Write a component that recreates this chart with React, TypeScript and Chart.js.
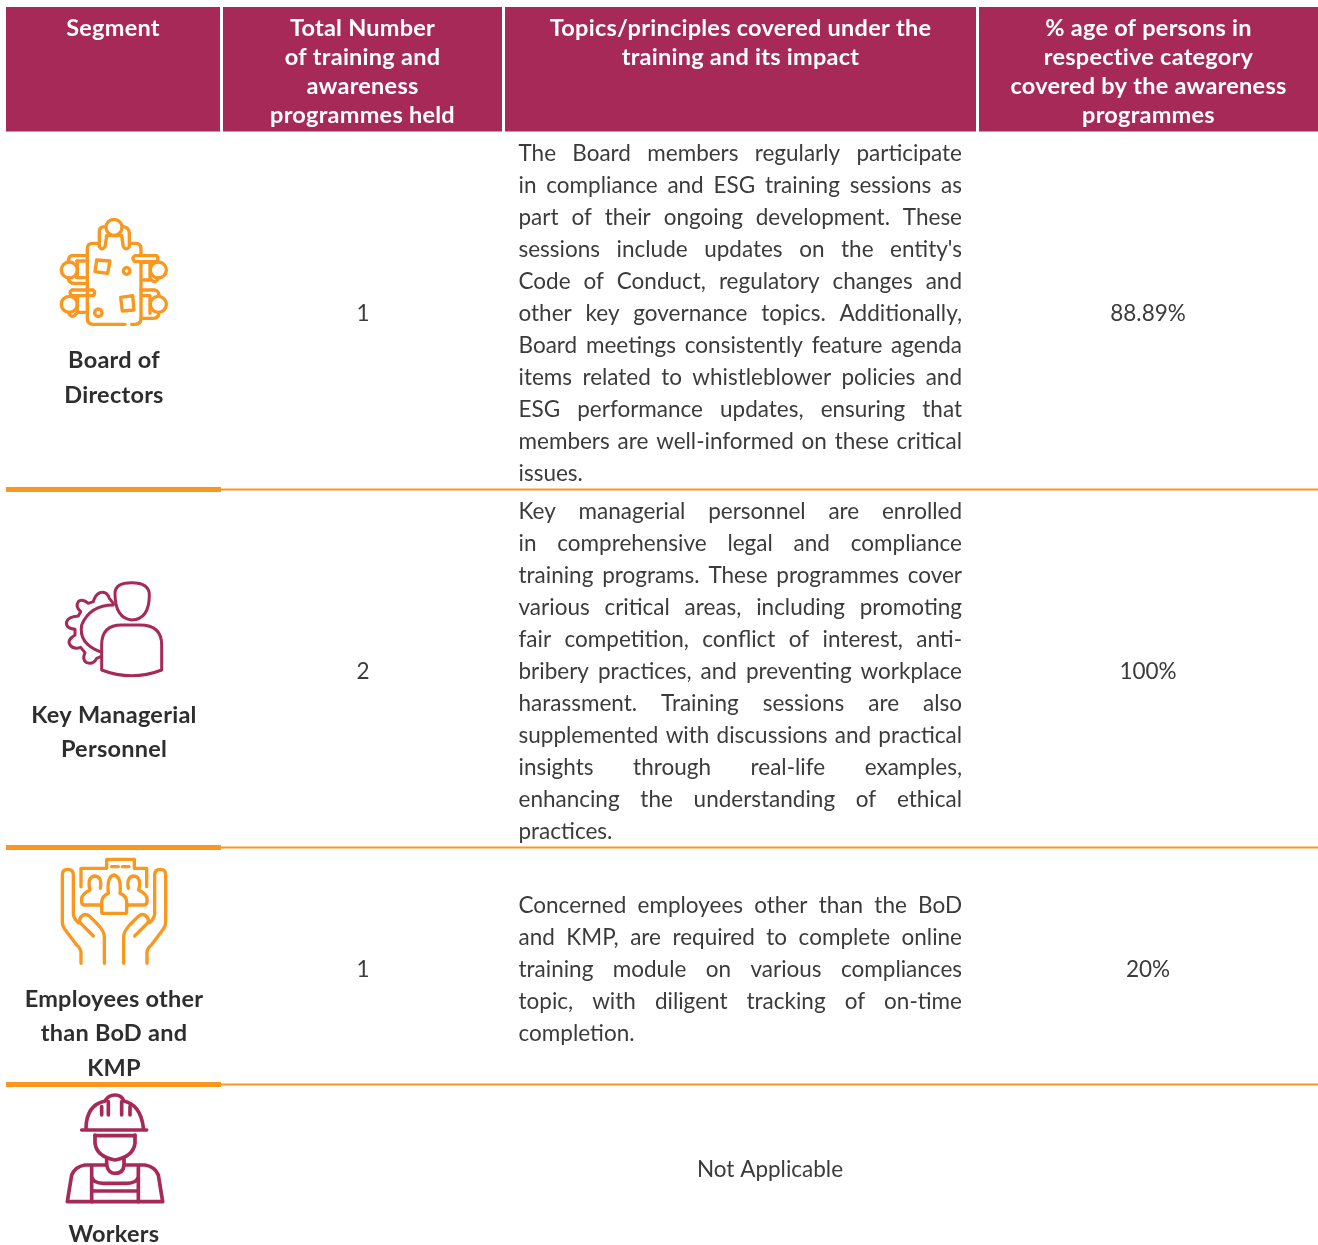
import React, { useEffect, useRef } from "react";
import { Chart, registerables } from "chart.js";

Chart.register(...registerables);

const headers: string[][] = [
  ["Segment"],
  ["Total Number", "of training and", "awareness", "programmes held"],
  ["Topics/principles covered under the", "training and its impact"],
  ["% age of persons in", "respective category", "covered by the awareness", "programmes"],
];
const segments: string[][] = [
  ["Board of", "Directors"],
  ["Key Managerial", "Personnel"],
  ["Employees other", "than BoD and", "KMP"],
  ["Workers"],
];
const programmes = ["1", "2", "1"];
const coverage = ["88.89%", "100%", "20%"];
const notApplicable = "Not Applicable";
const topics: string[][] = [
  [
    "The Board members regularly participate",
    "in compliance and ESG training sessions as",
    "part of their ongoing development. These",
    "sessions include updates on the entity's",
    "Code of Conduct, regulatory changes and",
    "other key governance topics. Additionally,",
    "Board meetings consistently feature agenda",
    "items related to whistleblower policies and",
    "ESG performance updates, ensuring that",
    "members are well-informed on these critical",
    "issues.",
  ],
  [
    "Key managerial personnel are enrolled",
    "in comprehensive legal and compliance",
    "training programs. These programmes cover",
    "various critical areas, including promoting",
    "fair competition, conflict of interest, anti-",
    "bribery practices, and preventing workplace",
    "harassment. Training sessions are also",
    "supplemented with discussions and practical",
    "insights through real-life examples,",
    "enhancing the understanding of ethical",
    "practices.",
  ],
  [
    "Concerned employees other than the BoD",
    "and KMP, are required to complete online",
    "training module on various compliances",
    "topic, with diligent tracking of on-time",
    "completion.",
  ],
];

const CRIMSON = "#a62958";
const ORANGE = "#f9971f";
const INK = "#3b3b3b";
const FONT = "Lato";

const colBands = [[6, 220], [223, 502], [505, 976], [979, 1318]];
const headerBaselines = [36, 65, 94, 123];
const rowTextStart = [161, 519, 913];
const rowValueBaseline = [321, 679, 977];
const segmentBaselines = [[368, 403], [723, 757], [1007, 1041, 1076], [1242]];
const ruleYs = [489.5, 847.5, 1084.5];

const boardIcon = {
  origin: [40, 205], color: ORANGE, width: 10,
  paths: [
    "M178,115 L158,115 Q142,115 142,132 L142,340 Q142,358 160,358 L255,358",
    "M275,358 L285,358 Q303,358 303,340 L303,172 M303,150 L303,132 Q303,115 287,115 L270,115",
    "M246,67 A24,24 0 1 1 198,67 A24,24 0 1 1 246,67 Z",
    "M178,125 L178,80 Q178,65 195,65 M250,65 Q268,68 268,85 L268,125 Q258,138 250,125 L245,92 L200,92 L195,125 Q185,138 178,125",
    "M285,152 L350,152 Q358,160 350,170 L285,170 Q272,160 285,152",
    "M379,195 A24,24 0 1 1 331,195 A24,24 0 1 1 379,195 Z",
    "M305,172 L330,172 L330,225 L305,225 M330,220 Q345,240 355,219",
    "M112,195 A24,24 0 1 1 64,195 A24,24 0 1 1 112,195 Z",
    "M142,152 L95,152 Q85,155 85,170 M85,218 Q85,235 105,235 L142,235 M110,168 L135,168 M110,218 L135,218 M112,168 L112,218",
    "M112,298 A24,24 0 1 1 64,298 A24,24 0 1 1 112,298 Z",
    "M160,255 L95,255 Q85,262 95,272 L160,272 Q168,262 160,255 M135,272 L110,272 M135,322 L110,322 M85,322 Q95,345 110,325 M112,272 L112,322",
    "M379,298 A24,24 0 1 1 331,298 A24,24 0 1 1 379,298 Z",
    "M303,255 L345,255 Q357,258 357,272 M303,340 L340,340 Q357,340 357,322 M305,272 L330,272 L330,325",
    "M170,165 L210,168 L203,205 L165,200 Z",
    "M242,277 L278,272 L282,315 L247,318 Z",
    "M270,198 A10,10 0 1 1 250,198 A10,10 0 1 1 270,198 Z",
    "M186,323 A11,11 0 1 1 164,323 A11,11 0 1 1 186,323 Z",
  ],
};
const managerIcon = {
  origin: [50, 570], color: CRIMSON, width: 9,
  paths: [
    "M195,70 Q195,38 245,38 Q298,38 298,75 Q298,148 245,150 Q195,145 195,70 Z",
    "M155,300 L155,225 Q155,165 215,165 L270,165 Q335,165 335,225 L335,300 Q245,335 155,300 Z",
    "M190,100 L178,85 Q170,62 150,68 Q135,75 130,95 L115,100 Q95,85 85,95 Q75,110 92,125 L85,138 Q55,140 50,155 Q45,175 75,178 L75,195 Q50,210 60,225 Q72,240 92,232 L105,248 Q95,270 110,278 Q130,285 140,265 L152,260",
    "M190,105 Q120,105 95,165 Q85,220 150,245",
  ],
};
const employeeIcon = {
  origin: [45, 850], color: ORANGE, width: 10,
  paths: [
    "M108,340 L108,310 Q108,295 95,285 L65,245 Q52,230 52,215 L52,75 Q52,58 68,58 Q85,58 85,75 L85,190 Q85,205 100,218",
    "M145,258 L105,218 Q100,205 115,195 Q125,190 135,200 L160,225 Q178,245 178,260 L178,340",
    "M306,340 L306,310 Q306,295 319,285 L349,245 Q362,230 362,215 L362,75 Q362,58 346,58 Q329,58 329,75 L329,190 Q329,205 314,218",
    "M269,258 L309,218 Q314,205 299,195 Q289,190 279,200 L254,225 Q236,245 236,260 L236,340",
    "M108,110 L108,55 L185,55 L185,28 L268,28 L268,55 L305,55 L305,110",
    "M170,185 L170,155 Q172,138 190,130 Q185,80 207,75 Q230,80 225,130 Q245,138 245,155 L245,185 Q245,190 240,190 L175,190 Q170,190 170,185 Z",
    "M168,165 L120,165 Q110,165 110,155 L110,145 Q112,132 135,120 Q125,80 150,78 Q172,80 166,115",
    "M248,165 L296,165 Q306,165 306,155 L306,145 Q304,132 281,120 Q291,80 266,78 Q244,80 250,115",
    "M200,50 L220,50 M232,50 L252,50",
  ],
};
const workerIcon = {
  origin: [50, 1085], color: CRIMSON, width: 11,
  paths: [
    "M108,128 Q110,60 165,48 Q175,30 195,30 Q215,30 222,48 Q272,60 280,128",
    "M95,135 L290,135 M135,152 L255,152",
    "M155,65 L155,90 M175,50 L175,90 M215,50 L215,90 M240,65 L240,90",
    "M135,150 L135,175 Q140,215 195,225 Q250,215 255,175 L255,150",
    "M170,222 L170,240 Q175,265 195,265 Q220,265 222,240 L222,222",
    "M170,240 L105,240 Q75,245 65,270 L52,350 L338,350 L325,270 Q315,245 285,240 L222,240",
    "M125,245 L125,350 M265,245 L265,350 M125,275 Q130,295 160,295 L230,295 Q260,295 265,275 M130,318 L260,318",
  ],
};
const icons = [boardIcon, managerIcon, employeeIcon, workerIcon];

const tablePlugin = {
  id: "tablePlugin",
  afterDraw(chart: any) {
    const { ctx } = chart;
    const X = (v: number) => chart.scales.x.getPixelForValue(v);
    const Y = (v: number) => chart.scales.y.getPixelForValue(v);
    const center = (a: number[]) => (a[0] + a[1]) / 2;
    ctx.save();
    ctx.textBaseline = "alphabetic";

    // header
    colBands.forEach((b, i) => {
      ctx.fillStyle = CRIMSON;
      ctx.fillRect(X(b[0]), Y(7), X(b[1]) - X(b[0]), Y(131.5) - Y(7));
      ctx.fillStyle = "#ffffff";
      ctx.font = `700 23.5px ${FONT}`;
      ctx.letterSpacing = "0.25px";
      ctx.textAlign = "center";
      headers[i].forEach((t, j) => ctx.fillText(t, X(center(b)), Y(headerBaselines[j])));
    });

    // rules
    ctx.fillStyle = ORANGE;
    ruleYs.forEach((y) => {
      ctx.fillRect(X(6), Y(y - 2.5), X(221) - X(6), 5);
      ctx.fillRect(X(221), Y(y - 1), X(1318) - X(221), 2);
    });

    // values
    ctx.fillStyle = INK;
    ctx.font = `400 22.5px ${FONT}`;
    ctx.letterSpacing = "0px";
    programmes.forEach((t, i) => ctx.fillText(t, X(363), Y(rowValueBaseline[i])));
    coverage.forEach((t, i) => ctx.fillText(t, X(1148), Y(rowValueBaseline[i])));
    ctx.fillText(notApplicable, X(770), Y(1177));

    // topics (justified)
    ctx.textAlign = "left";
    topics.forEach((lines, r) => {
      lines.forEach((t, j) => {
        const last = j === lines.length - 1;
        ctx.wordSpacing = "0px";
        const w = ctx.measureText(t).width;
        const gaps = t.split(" ").length - 1;
        if (!last && gaps > 0) ctx.wordSpacing = `${(443.5 - w) / gaps}px`;
        ctx.fillText(t, X(518.5), Y(rowTextStart[r] + j * 32));
      });
    });
    ctx.wordSpacing = "0px";

    // segment labels
    ctx.textAlign = "center";
    ctx.fillStyle = "#2e2e2e";
    ctx.font = `700 23.5px ${FONT}`;
    ctx.letterSpacing = "0.25px";
    segments.forEach((lines, r) =>
      lines.forEach((t, j) => ctx.fillText(t, X(114), Y(segmentBaselines[r][j])))
    );
    ctx.letterSpacing = "0px";

    // icons
    icons.forEach((ic) => {
      ctx.save();
      ctx.translate(X(ic.origin[0]), Y(ic.origin[1]));
      ctx.scale(1 / 3, 1 / 3);
      ctx.strokeStyle = ic.color;
      ctx.lineWidth = ic.width;
      ctx.lineCap = "round";
      ctx.lineJoin = "round";
      ic.paths.forEach((d) => ctx.stroke(new Path2D(d)));
      ctx.restore();
    });
    ctx.restore();
  },
};

export default function App() {
  const ref = useRef<HTMLCanvasElement>(null);
  useEffect(() => {
    document.body.style.margin = "0";
    const chart = new Chart(ref.current!, {
      type: "scatter",
      data: { datasets: [{ data: [] }] },
      options: {
        animation: false,
        responsive: false,
        layout: { padding: 0 },
        plugins: { legend: { display: false }, tooltip: { enabled: false } },
        scales: {
          x: { type: "linear", min: 0, max: 1318, display: false },
          y: { type: "linear", min: 0, max: 1245, reverse: true, display: false },
        },
      },
      plugins: [tablePlugin],
    });
    return () => chart.destroy();
  }, []);
  return (
    <div style={{ width: 1318, height: 1245, background: "#fff" }}>
      <canvas ref={ref} width={1318} height={1245} style={{ display: "block" }} />
    </div>
  );
}
